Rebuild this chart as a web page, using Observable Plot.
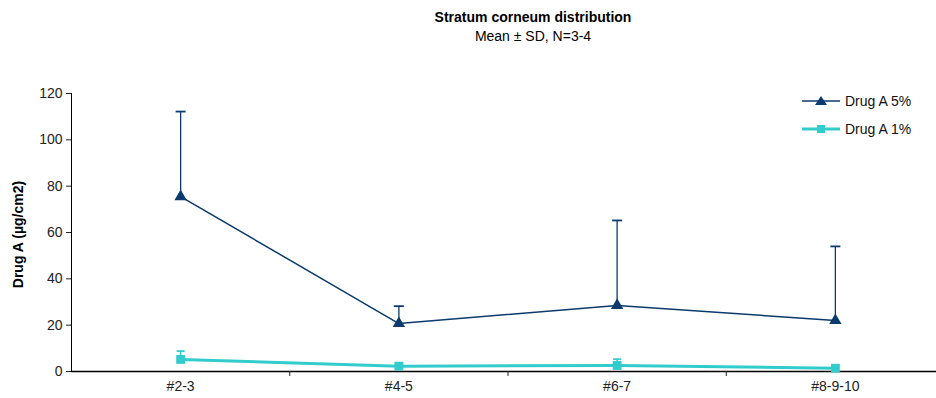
<!DOCTYPE html>
<html><head><meta charset="utf-8">
<script src="https://cdn.jsdelivr.net/npm/d3@7"></script>
<script src="https://cdn.jsdelivr.net/npm/@observablehq/plot@0.6"></script>
<style>
body{margin:0;background:#fff;font-family:"Liberation Sans",Arial,sans-serif;}
#wrap{position:relative;width:936px;height:398px;overflow:hidden;}
.t{position:absolute;left:533px;transform:translateX(-50%);white-space:nowrap;font-size:14px;color:#000;}
#legend{position:absolute;left:802px;top:92px;font-size:14px;color:#111;}
.row{display:flex;align-items:center;height:18px;margin-bottom:10px;}
.row svg{margin-right:5px;}
#chart{position:absolute;left:0;top:50px;}
</style></head>
<body>
<div id="wrap">
  <div class="t" style="top:9px;font-weight:bold;">Stratum corneum distribution</div>
  <div class="t" style="top:28px;">Mean ± SD, N=3-4</div>
  <div id="chart"></div>
  <div id="legend"></div>
</div>
<script>
const categories = ["#2-3", "#4-5", "#6-7", "#8-9-10"];
const seriesNames = ["Drug A 5%", "Drug A 1%"];
const mean5 = [75.5, 20.7, 28.5, 22];
const sd5 = [36.7, 7.5, 36.7, 32];
const mean1 = [5.2, 2.3, 2.6, 1.4];
const sd1 = [3.6, 0.8, 2.7, 1.1];
const yTicks = [0, 20, 40, 60, 80, 100, 120];

const colors = {"Drug A 5%": "#0b3a6c", "Drug A 1%": "#33cccc"};

const rows = [];
categories.forEach((c, i) => {
  rows.push({series: seriesNames[0], i, cat: c, mean: mean5[i], top: mean5[i] + sd5[i]});
  rows.push({series: seriesNames[1], i, cat: c, mean: mean1[i], top: mean1[i] + sd1[i]});
});
const r5 = rows.filter(d => d.series === seriesNames[0]);
const r1 = rows.filter(d => d.series === seriesNames[1]);

const capSym = (w) => ({draw(ctx, size) { ctx.moveTo(-w / 2, 0); ctx.lineTo(w / 2, 0); }});

const plot = Plot.plot({
  width: 936,
  height: 348,
  marginLeft: 71,
  marginRight: 0,
  marginTop: 43,
  marginBottom: 27,
  style: {fontFamily: "Liberation Sans, Arial, sans-serif", fontSize: "14px", color: "#222", background: "#fff"},
  x: {type: "linear", domain: [-0.5, 3.5], range: [71, 944]},
  y: {domain: [0, 120]},
  marks: [
    Plot.frame({anchor: "left", stroke: "#000"}),
    Plot.frame({anchor: "bottom", stroke: "#000", strokeWidth: 1.5}),
    Plot.axisY({ticks: yTicks, tickSize: 5, tickPadding: 4, label: null, fontSize: 14}),
    Plot.axisX({ticks: [0.5, 1.5, 2.5], tickFormat: () => "", tickSize: 5, label: null}),
    Plot.axisX({ticks: categories.map((c, i) => i), tickFormat: i => categories[i], tickSize: 0, tickPadding: 10, label: null, fontSize: 14}),
    Plot.text(["Drug A (µg/cm2)"], {frameAnchor: "left", textAnchor: "middle", dx: -53, dy: 2, rotate: -90, fontWeight: "bold", fontSize: 14, fill: "#000"}),
    // 1% series
    Plot.ruleX(r1, {x: "i", y1: "mean", y2: "top", stroke: colors["Drug A 1%"], strokeWidth: 1.5}),
    Plot.dot(r1, {x: "i", y: "top", symbol: capSym(8), r: 4, stroke: colors["Drug A 1%"], strokeWidth: 1.8}),
    Plot.line(r1, {x: "i", y: "mean", stroke: colors["Drug A 1%"], strokeWidth: 3}),
    Plot.dot(r1, {x: "i", y: "mean", symbol: "square", r: 5, fill: colors["Drug A 1%"], stroke: "none"}),
    // 5% series
    Plot.ruleX(r5, {x: "i", y1: "mean", y2: "top", stroke: colors["Drug A 5%"], strokeWidth: 1.3}),
    Plot.dot(r5, {x: "i", y: "top", symbol: capSym(10), r: 4, stroke: colors["Drug A 5%"], strokeWidth: 1.8}),
    Plot.line(r5, {x: "i", y: "mean", stroke: colors["Drug A 5%"], strokeWidth: 1.5}),
    Plot.dot(r5, {x: "i", y: "mean", symbol: "triangle", r: 4.6, fill: colors["Drug A 5%"], stroke: "none"})
  ]
});
document.getElementById("chart").appendChild(plot);

// legend
const leg = document.getElementById("legend");
seriesNames.forEach((name, k) => {
  const row = document.createElement("div");
  row.className = "row";
  const c = colors[name];
  const marker = k === 0
    ? `<path d="M19,4 L25,13 L13,13 Z" fill="${c}"/>`
    : `<rect x="15" y="5" width="8" height="8" fill="${c}"/>`;
  row.innerHTML = `<svg width="38" height="18"><line x1="0" x2="38" y1="9" y2="9" stroke="${c}" stroke-width="${k === 0 ? 1.5 : 3}"/>${marker}</svg><span>${name}</span>`;
  leg.appendChild(row);
});
</script>
</body></html>
